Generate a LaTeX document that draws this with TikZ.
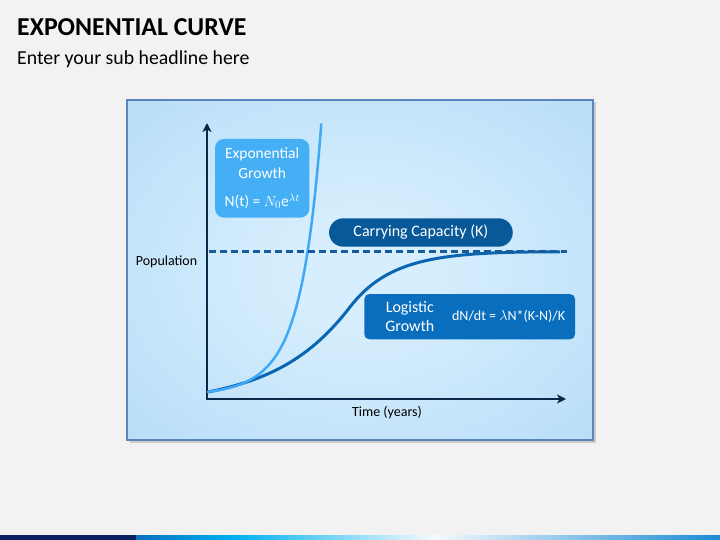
\documentclass[tikz,border=0pt]{standalone}
\usepackage{fontspec}
\setmainfont{Carlito}
\usetikzlibrary{arrows.meta}
\usetikzlibrary{positioning}

\definecolor{bggray}{HTML}{F2F2F2}
\definecolor{panelin}{HTML}{D6EEFD}
\definecolor{panelout}{HTML}{A9D5F5}
\definecolor{paneledge}{HTML}{5A86BC}
\definecolor{axisnavy}{HTML}{0C2747}
\definecolor{capdash}{HTML}{175B98}
\definecolor{expblue}{HTML}{3FA9F5}
\definecolor{expfill}{HTML}{45AFF6}
\definecolor{logblue}{HTML}{0A66B3}
\definecolor{logfill}{HTML}{0A6EBE}
\definecolor{capfill}{HTML}{07599A}
\definecolor{barnavy}{HTML}{0A1F5E}
\definecolor{barblue}{HTML}{0A6FC2}
\definecolor{barcyan}{HTML}{00B0F0}
\definecolor{barwhite}{HTML}{F5FAFD}
\definecolor{barend}{HTML}{1A8BD6}

\pgfdeclareradialshading{panelglow}{\pgfpoint{0bp}{0bp}}{color(0bp)=(panelin); color(8bp)=(panelin); color(50bp)=(panelout)}

\begin{document}
\begin{tikzpicture}[x=1pt,y=-1pt]
   \tikzset{panel/.style={draw=paneledge, line width=2pt, shading=panelglow,
      minimum width=466pt, minimum height=340pt, inner sep=0pt}}
   \tikzset{axis/.style={draw=axisnavy, line width=2pt,
      {Stealth[length=9pt,width=9pt,inset=2.5pt]}-{Stealth[length=9pt,width=9pt,inset=2.5pt]}}}
   \tikzset{kline/.style={draw=capdash, line width=2.2pt, dash pattern=on 7pt off 4pt}}
   \tikzset{expcurve/.style={draw=expblue, line width=2.5pt}}
   \tikzset{logcurve/.style={draw=logblue, line width=3pt}}
   \tikzset{boxtext/.style={text=white, inner sep=0pt, align=center,
      font=\fontsize{16}{19}\selectfont}}
   \tikzset{expbox/.style={boxtext, fill=expfill, rounded corners=9pt,
      minimum width=94.3pt, minimum height=78.7pt, font=\fontsize{15.5}{19.4}\selectfont}}
   \tikzset{capbox/.style={boxtext, fill=capfill, rounded corners=14.2pt,
      minimum width=183.7pt, minimum height=28.4pt}}
   \tikzset{logbox/.style={fill=logfill, rounded corners=5pt,
      minimum width=210.7pt, minimum height=45.3pt, inner sep=0pt}}
   \tikzset{axlabel/.style={text=black, inner sep=0pt, anchor=base,
      font=\fontsize{14}{16}\selectfont}}

   % page
   \fill[bggray] (0,0) rectangle (720,540);
   \useasboundingbox (0,0) rectangle (720,540);
   \node[anchor=base west, inner sep=0pt, font=\fontsize{25.8}{30}\selectfont\bfseries]
      (title) at (17,36) {EXPONENTIAL CURVE};
   \node[anchor=base west, inner sep=0pt, font=\fontsize{19.8}{24}\selectfont]
      (subtitle) at (17,64.5) {Enter your sub headline here};

   % bottom bar
   \fill[barnavy] (0,535) rectangle (136,540);
   \shade[left color=barblue, right color=barcyan] (136,535) rectangle (233,540);
   \shade[left color=barcyan, right color=barwhite] (233,535) rectangle (434,540);
   \shade[left color=barwhite, right color=barend] (434,535) rectangle (720,540);

   % panel
   \fill[black, opacity=0.16] (129.5,102.5) rectangle (596,442.5);
   \node[panel] (panel) at (360.2,270) {};

   % axes
   \coordinate (origin) at (207,399);
   \coordinate (ytop) at (207,123);
   \coordinate (xend) at (566,399);
   \coordinate (kleft) at (209,251.5);
   \coordinate (kright) at (567,251.5);
   \draw[axis] (ytop) -- (origin) -- (xend);
   \node[axlabel] (ylabel) at (166.5,265.7) {Population};
   \node[axlabel] (xlabel) at (387,416.7) {Time (years)};

   % curves
   \coordinate (lstart) at (208,392);
   \coordinate (lmid) at (350,307);
   \coordinate (lend) at (560,251.8);
   \draw[logcurve] (lstart) .. controls (268,380) and (310,359) .. (lmid)
      .. controls (388,258) and (440,251.8) .. (lend);
   \draw[expcurve] plot[domain=0:114.3, samples=90]
      ({207+\x}, {395.6-3.6*exp(0.033*\x)-0.0387*exp(0.07*\x)});
   \draw[kline] (kleft) -- (kright);

   % labels
   \node[expbox] (expbox) at (262.2,178.3)
      {Exponential\\Growth\\[9pt]N(t) = $N_0$e$^{\lambda t}$};
   \node[capbox] (capbox) at (420.9,232.5) {Carrying Capacity (K)};
   \node[logbox] (logbox) at (469.7,316.7) {};
   \node[boxtext, right=21pt of logbox.west] (logtext) {Logistic\\Growth};
   \node[boxtext, left=10pt of logbox.east, font=\fontsize{14}{16}\selectfont]
      (logeq) {dN/dt = $\lambda$N*(K-N)/K};
\end{tikzpicture}
\end{document}
